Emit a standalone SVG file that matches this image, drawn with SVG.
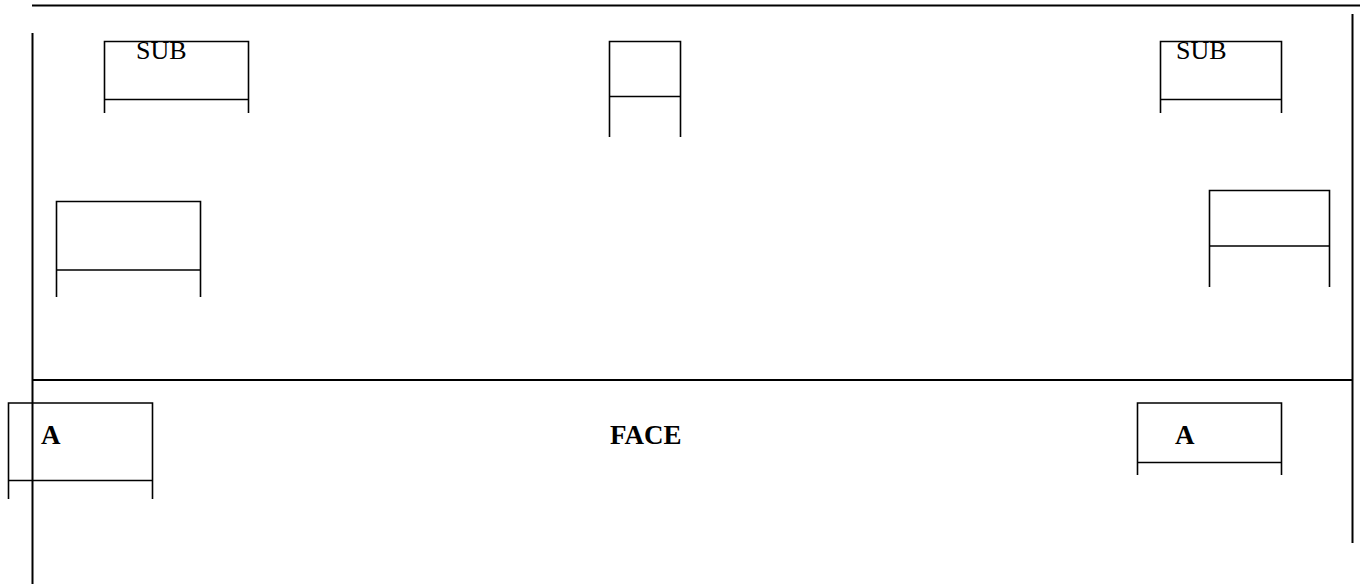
<svg xmlns="http://www.w3.org/2000/svg" width="1360" height="584" viewBox="0 0 1360 584">
<style>
.ln{fill:none;stroke:#000;stroke-width:2}
.bx{fill:none;stroke:#000;stroke-width:1.6}
.sub{font-family:"Liberation Serif","Times New Roman",serif;font-size:26px;fill:#000}
.bold{font-family:"Liberation Serif","Times New Roman",serif;font-size:27px;font-weight:bold;fill:#000}
</style>
<rect width="1360" height="584" fill="#fff"/>
<g id="connectors">
<line class="ln" x1="32" y1="5.5" x2="1360" y2="5.5"/>
<line class="ln" x1="32.5" y1="33" x2="32.5" y2="584"/>
<line class="ln" x1="1352.5" y1="14" x2="1352.5" y2="543"/>
<line class="ln" x1="32" y1="380" x2="1352" y2="380"/>
</g>
<g id="sub-left">
<path class="bx" d="M104.5 113V41.5H248.5V113M104.5 99.5H248.5"/>
<text class="sub" x="136" y="59">SUB</text>
</g>
<g id="box-top-mid">
<path class="bx" d="M609.5 137V41.5H680.5V137M609.5 96.5H680.5"/>
</g>
<g id="sub-right">
<path class="bx" d="M1160.5 113V41.5H1281.5V113M1160.5 99.5H1281.5"/>
<text class="sub" x="1176" y="59">SUB</text>
</g>
<g id="box-mid-left">
<path class="bx" d="M56.5 297V201.5H200.5V297M56.5 270H200.5"/>
</g>
<g id="box-mid-right">
<path class="bx" d="M1209.5 287V190.5H1329.5V287M1209.5 246H1329.5"/>
</g>
<g id="a-left">
<path class="bx" d="M8.5 499V403H152.5V499M8.5 480.5H152.5"/>
<text class="bold" x="41" y="444">A</text>
</g>
<g id="face">
<text class="bold" x="610" y="444">FACE</text>
</g>
<g id="a-right">
<path class="bx" d="M1137.5 475V403H1281.5V475M1137.5 462.5H1281.5"/>
<text class="bold" x="1175" y="444">A</text>
</g>
</svg>
